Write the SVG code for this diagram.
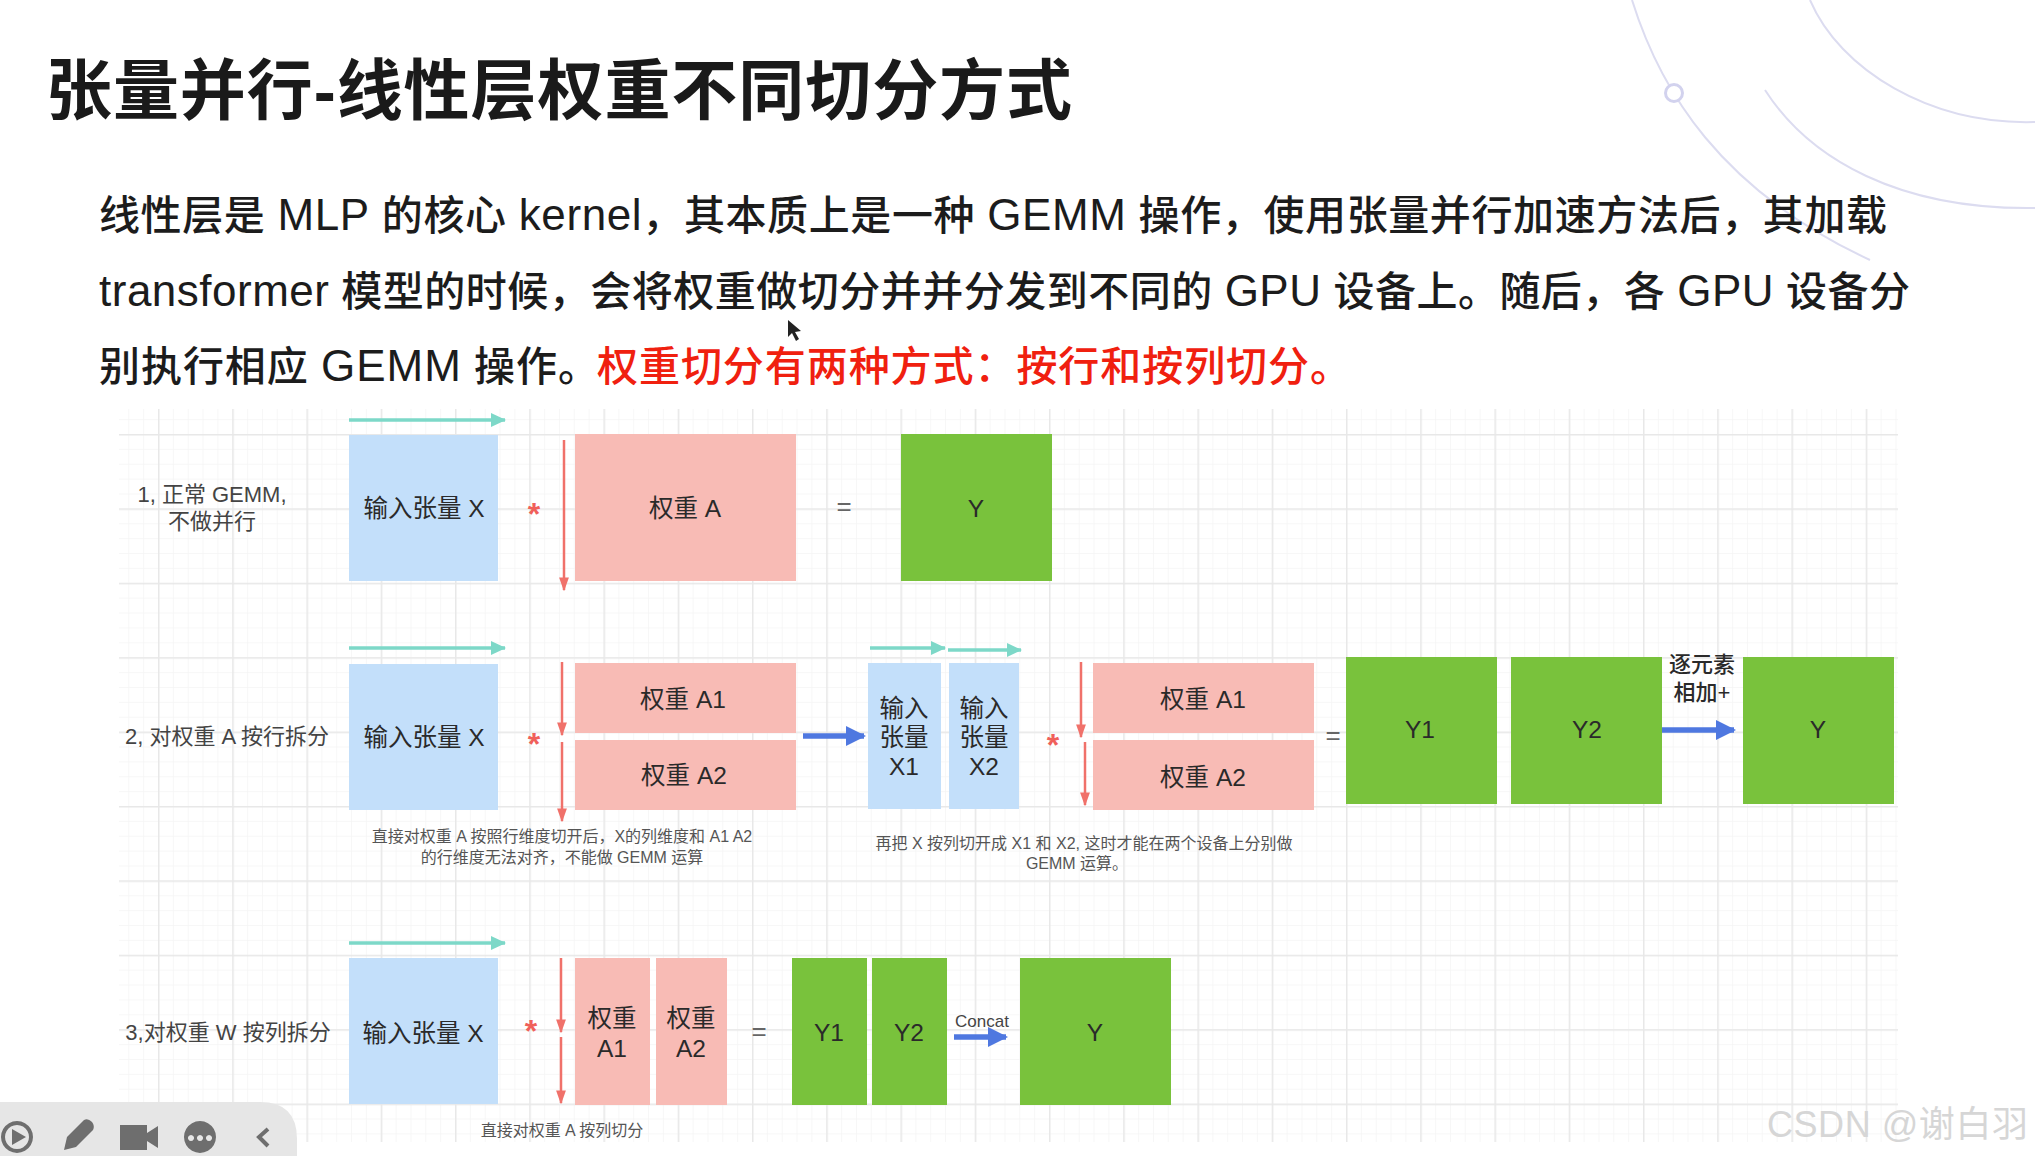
<svg xmlns="http://www.w3.org/2000/svg" width="2035" height="1156" viewBox="0 0 2035 1156">
<style>
text{font-family:"Liberation Sans","Noto Sans CJK SC",sans-serif;fill:#262626}
.title{font-size:66px;font-weight:700;fill:#1a1a1a}
.body{font-size:41px;font-weight:500;fill:#1c1c1c}
.lat{font-size:44px}
.red{fill:#f0200f}
.lbl{font-size:24.5px;text-anchor:middle;dominant-baseline:central;fill:#2a2a2a}
.side{font-size:22px;text-anchor:middle;dominant-baseline:central;fill:#444}
.note{font-size:16px;text-anchor:middle;dominant-baseline:central;fill:#555}
.op{font-size:26px;text-anchor:middle;dominant-baseline:central;fill:#666}
.star{font-size:32px;font-weight:700;text-anchor:middle;fill:#f0605a}
.blue{fill:#c3dffa}.pink{fill:#f8bbb5}.green{fill:#79c23c}
.teal{stroke:#7dd8c8;stroke-width:3.5;fill:none;marker-end:url(#mt)}
.ra{stroke:#f0716a;stroke-width:2.5;fill:none;marker-end:url(#mr)}
.ba{stroke:#4f78e0;stroke-width:5.5;fill:none;marker-end:url(#mb)}
.deco{stroke:#dcdcf0;stroke-width:2;fill:none}
.ico{fill:#6e6e6e}
</style>
<defs>
<marker id="mt" markerUnits="userSpaceOnUse" markerWidth="16" markerHeight="14" refX="14" refY="7" orient="auto"><path d="M0 0L15 7L0 14Z" fill="#7dd8c8"/></marker>
<marker id="mr" markerUnits="userSpaceOnUse" markerWidth="14" markerHeight="20" refX="18" refY="7" orient="auto" viewBox="0 0 20 14"><path d="M0 0L20 7L0 14Z" fill="#f0716a"/></marker>
<marker id="mb" markerUnits="userSpaceOnUse" markerWidth="20" markerHeight="20" refX="18" refY="10" orient="auto"><path d="M0 0L20 10L0 20Z" fill="#4f78e0"/></marker>
<pattern id="minor" patternUnits="userSpaceOnUse" width="14.85" height="14.88" patternTransform="translate(158 434)"><path d="M0 0V14.88M0 0H14.85" stroke="#f5f5f5" stroke-width="1.5" fill="none"/></pattern>
<pattern id="major" patternUnits="userSpaceOnUse" width="74.25" height="74.4" patternTransform="translate(158 434)"><path d="M0 -1V75M-1 0H75" stroke="#e8e8e8" stroke-width="3" fill="none"/></pattern>
</defs>
<rect width="2035" height="1156" fill="#fff"/>
<g id="decoration">
<path class="deco" d="M1632 0C1660 90 1720 190 1870 260"/>
<path class="deco" d="M1765 90C1810 160 1900 210 2035 208"/>
<path class="deco" d="M1810 0C1840 70 1930 125 2035 122"/>
<circle cx="1674" cy="93" r="8.5" fill="#fff" stroke="#d2d2ee" stroke-width="3"/>
</g>
<g id="heading">
<text class="title" x="46" y="114" textLength="1026" lengthAdjust="spacing">张量并行-线性层权重不同切分方式</text>
<text class="body" x="99" y="230" textLength="1788" lengthAdjust="spacing">线性层是 <tspan class="lat">MLP</tspan> 的核心 <tspan class="lat">kernel</tspan>，其本质上是一种 <tspan class="lat">GEMM</tspan> 操作，使用张量并行加速方法后，其加载</text>
<text class="body" x="99" y="306" textLength="1811" lengthAdjust="spacing"><tspan class="lat">transformer</tspan> 模型的时候，会将权重做切分并并分发到不同的 <tspan class="lat">GPU</tspan> 设备上。随后，各 <tspan class="lat">GPU</tspan> 设备分</text>
<text class="body" x="99" y="381" textLength="500" lengthAdjust="spacing">别执行相应 <tspan class="lat">GEMM</tspan> 操作。</text>
<text class="body red" x="597" y="381" textLength="754" lengthAdjust="spacing">权重切分有两种方式：按行和按列切分。</text>
</g>
<g id="grid">
<rect x="119" y="409" width="1779" height="733" fill="url(#minor)"/>
<rect x="119" y="409" width="1779" height="733" fill="url(#major)"/>
</g>
<g id="row1-label"><text class="side" x="212" y="494">1, 正常 GEMM,</text><text class="side" x="212" y="521">不做并行</text></g>
<g id="row1-x"><rect class="blue" x="349" y="435" width="149" height="146"/><text class="lbl" x="424" y="508">输入张量 X</text></g>
<g id="row1-star"><text class="star" x="534" y="525">*</text></g>
<g id="row1-a"><rect class="pink" x="575" y="434" width="221" height="147"/><text class="lbl" x="685" y="508">权重 A</text></g>
<g id="row1-eq"><text class="op" x="844" y="506">=</text></g>
<g id="row1-y"><rect class="green" x="901" y="434" width="151" height="147"/><text class="lbl" x="976" y="508">Y</text></g>

<g id="row2-label"><text class="side" x="227" y="736">2, 对权重 A 按行拆分</text></g>
<g id="row2-x"><rect class="blue" x="349" y="664" width="149" height="146"/><text class="lbl" x="424" y="737">输入张量 X</text></g>
<g id="row2-star"><text class="star" x="534" y="755">*</text></g>
<g id="row2-a1"><rect class="pink" x="575" y="663" width="221" height="70"/><text class="lbl" x="683" y="699">权重 A1</text></g>
<g id="row2-a2"><rect class="pink" x="575" y="740" width="221" height="70"/><text class="lbl" x="684" y="775">权重 A2</text></g>
<g id="row2-note1"><text class="note" x="562" y="836">直接对权重 A 按照行维度切开后，X的列维度和 A1 A2</text><text class="note" x="562" y="857">的行维度无法对齐，不能做 GEMM 运算</text></g>
<g id="row2-x1"><rect class="blue" x="868" y="663" width="73" height="146"/><text class="lbl"><tspan x="904" y="708">输入</tspan><tspan x="904" y="737">张量</tspan><tspan x="904" y="766">X1</tspan></text></g>
<g id="row2-x2"><rect class="blue" x="949" y="663" width="70" height="146"/><text class="lbl"><tspan x="984" y="708">输入</tspan><tspan x="984" y="737">张量</tspan><tspan x="984" y="766">X2</tspan></text></g>
<g id="row2-star2"><text class="star" x="1053" y="756">*</text></g>
<g id="row2-a1b"><rect class="pink" x="1093" y="663" width="221" height="70"/><text class="lbl" x="1203" y="699">权重 A1</text></g>
<g id="row2-a2b"><rect class="pink" x="1093" y="740" width="221" height="70"/><text class="lbl" x="1203" y="777">权重 A2</text></g>
<g id="row2-eq"><text class="op" x="1333" y="735">=</text></g>
<g id="row2-note2"><text class="note" x="1084" y="843">再把 X 按列切开成 X1 和 X2, 这时才能在两个设备上分别做</text><text class="note" x="1077" y="863">GEMM 运算。</text></g>
<g id="row2-y1"><rect class="green" x="1346" y="657" width="151" height="147"/><text class="lbl" x="1420" y="729">Y1</text></g>
<g id="row2-y2"><rect class="green" x="1511" y="657" width="151" height="147"/><text class="lbl" x="1587" y="729">Y2</text></g>
<g id="row2-sum"><text class="lbl" style="font-size:22px;font-weight:500"><tspan x="1702" y="664">逐元素</tspan><tspan x="1702" y="692">相加+</tspan></text></g>
<g id="row2-y"><rect class="green" x="1743" y="657" width="151" height="147"/><text class="lbl" x="1818" y="729">Y</text></g>

<g id="row3-label"><text class="side" x="228" y="1032">3,对权重 W 按列拆分</text></g>
<g id="row3-x"><rect class="blue" x="349" y="958" width="149" height="146"/><text class="lbl" x="423" y="1033">输入张量 X</text></g>
<g id="row3-star"><text class="star" x="531" y="1042">*</text></g>
<g id="row3-a1"><rect class="pink" x="575" y="958" width="75" height="147"/><text class="lbl"><tspan x="612" y="1018">权重</tspan><tspan x="612" y="1048">A1</tspan></text></g>
<g id="row3-a2"><rect class="pink" x="656" y="958" width="71" height="147"/><text class="lbl"><tspan x="691" y="1018">权重</tspan><tspan x="691" y="1048">A2</tspan></text></g>
<g id="row3-eq"><text class="op" x="759" y="1031">=</text></g>
<g id="row3-y1"><rect class="green" x="792" y="958" width="75" height="147"/><text class="lbl" x="829" y="1032">Y1</text></g>
<g id="row3-y2"><rect class="green" x="872" y="958" width="75" height="147"/><text class="lbl" x="909" y="1032">Y2</text></g>
<g id="row3-concat"><text class="note" x="982" y="1021" style="font-size:17px;fill:#444">Concat</text></g>
<g id="row3-y"><rect class="green" x="1020" y="958" width="151" height="147"/><text class="lbl" x="1095" y="1032">Y</text></g>
<g id="row3-note"><text class="note" x="562" y="1130">直接对权重 A 按列切分</text></g>

<g id="connectors">
<path class="teal" d="M349 420H505"/>
<path class="teal" d="M349 648H505"/>
<path class="teal" d="M870 648H945"/>
<path class="teal" d="M948 650H1021"/>
<path class="teal" d="M349 943H505"/>
<path class="ra" d="M564 440V590"/>
<path class="ra" d="M562 662V735"/>
<path class="ra" d="M562 742V821"/>
<path class="ra" d="M1081 662V737"/>
<path class="ra" d="M1085 742V805"/>
<path class="ra" d="M561 958V1032"/>
<path class="ra" d="M561 1037V1103"/>
<path class="ba" d="M803 736H864"/>
<path class="ba" d="M1662 730H1734"/>
<path class="ba" d="M954 1037H1006"/>
</g>
<g id="cursor"><path d="M788 320L788 337L792 333L796 341L799 339L795 332L801 331Z" fill="#222"/></g>
<g id="toolbar">
<path d="M0 1102H260Q297 1102 297 1139V1156H0Z" fill="#e6e6e6"/>
<path class="ico" fill-rule="evenodd" d="M17 1121a16 16 0 1 1-.01 0ZM17 1125a12 12 0 1 0 .01 0ZM12 1129L26 1137L12 1145Z"/>
<path class="ico" d="M64 1150L67 1137L84 1120Q88 1118 92 1122Q95 1126 93 1130L76 1147Z"/>
<path class="ico" d="M120 1125H147V1133L158 1126V1148L147 1141V1150H120Z"/>
<path class="ico" fill-rule="evenodd" d="M200 1121a16 16 0 1 1-.01 0ZM191 1135a3 3 0 1 0 .01 0ZM200 1135a3 3 0 1 0 .01 0ZM209 1135a3 3 0 1 0 .01 0Z"/>
<path d="M268 1129L259 1137L268 1146" stroke="#6e6e6e" stroke-width="4" fill="none"/>
</g>
<g id="watermark"><text x="1767" y="1137" style="font-size:36px;fill:#d6d6d6" textLength="261">CSDN @谢白羽</text></g>
</svg>
